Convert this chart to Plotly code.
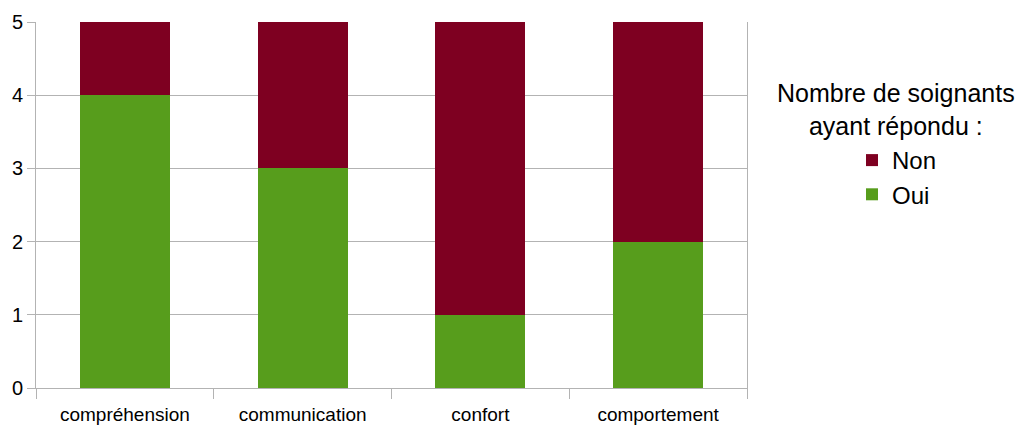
import plotly.graph_objects as go

categories = ["compréhension", "communication", "confort", "comportement"]
oui = [4, 3, 1, 2]
non = [1, 2, 4, 3]
y_ticks = [0, 1, 2, 3, 4, 5]

GREEN = "#579D1C"
RED = "#7E0021"
GRID = "#b3b3b3"
FONT = "Liberation Sans"

W, H = 1020, 420  # page body adds an 8px margin

fig = go.Figure()
fig.add_trace(go.Bar(x=categories, y=oui, name="Oui", marker=dict(color=GREEN, line=dict(width=0)),
                     legendgroup="oui"))
fig.add_trace(go.Bar(x=categories, y=non, name="Non", marker=dict(color=RED, line=dict(width=0)),
                     legendgroup="non"))

fig.update_layout(
    width=W, height=H,
    barmode="stack",
    bargap=0.494,
    paper_bgcolor="white",
    plot_bgcolor="white",
    margin=dict(l=28, r=281, t=14, b=40, autoexpand=False),
    font=dict(family=FONT, size=19, color="black"),
    showlegend=True,
    legend=dict(
        traceorder="reversed",
        xref="container", yref="container",
        x=844 / W, y=1 - 130 / H,
        xanchor="left", yanchor="top",
        font=dict(family=FONT, size=24, color="black"),
        tracegroupgap=6,
        bgcolor="rgba(0,0,0,0)",
    ),
    annotations=[dict(
        text="Nombre de soignants<br>ayant répondu :",
        xref="paper", yref="paper",
        x=(896 - 36) / (747 - 36), y=(388 - 77) / 366,
        xanchor="center", yanchor="top",
        showarrow=False, align="center",
        font=dict(family=FONT, size=25, color="black"),
    )],
)

fig.update_xaxes(
    type="category",
    range=[-0.5, 3.5],
    tickson="boundaries",
    ticks="outside", ticklen=10, tickcolor=GRID, tickwidth=1,
    showline=True, linecolor=GRID, linewidth=1,
    showgrid=False,
    ticklabelstandoff=9,
    tickfont=dict(family=FONT, size=19, color="black"),
)
fig.update_yaxes(
    range=[0, 5],
    tickvals=y_ticks,
    ticks="outside", ticklen=8, tickcolor=GRID, tickwidth=1,
    showline=True, linecolor=GRID, linewidth=1, mirror=True,
    showgrid=True, gridcolor=GRID, gridwidth=1,
    zeroline=False,
    tickfont=dict(family=FONT, size=20, color="black"),
)

fig.write_html("out.html")
